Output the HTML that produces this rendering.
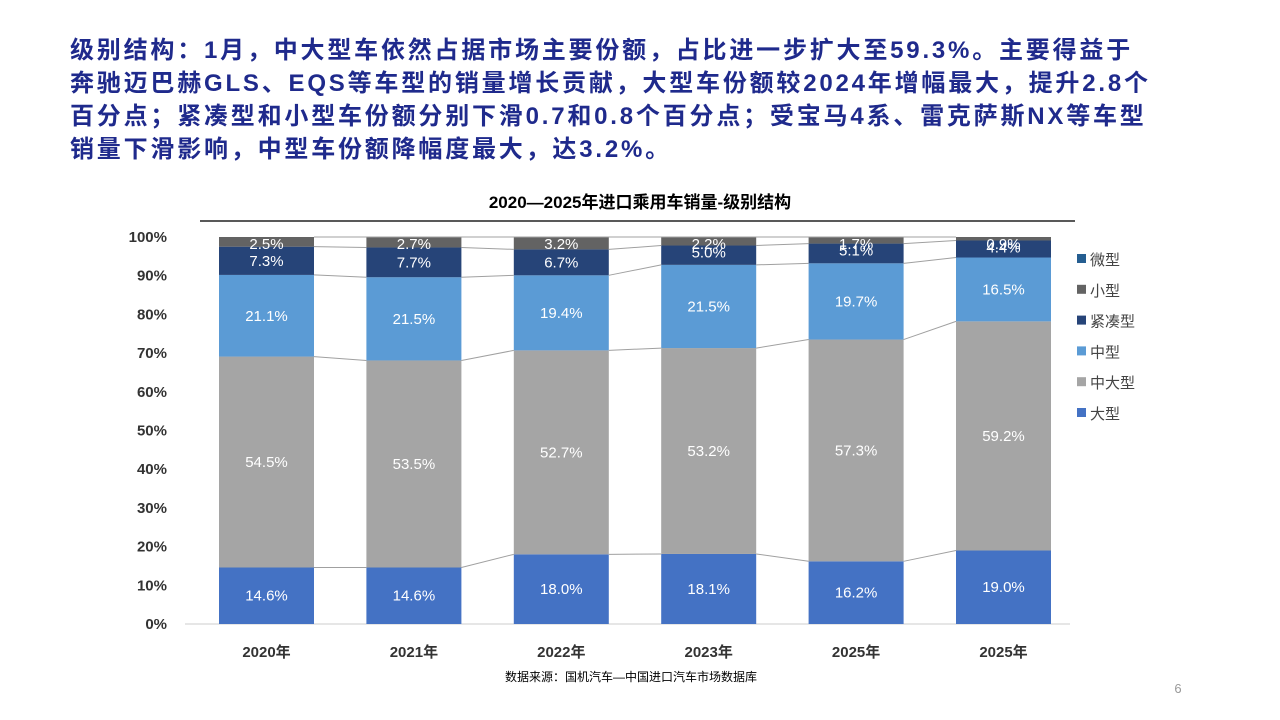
<!DOCTYPE html>
<html><head><meta charset="utf-8"><style>
body{margin:0;width:1280px;height:720px;background:#fff;overflow:hidden;font-family:"Liberation Sans","Noto Sans CJK SC",sans-serif}
.t{position:absolute;left:70px;top:34px;font-size:24px;font-weight:bold;color:#1f2a8c;line-height:33px;letter-spacing:2.8px;white-space:nowrap}
</style></head><body>
<div class="t">级别结构：1月，中大型车依然占据市场主要份额，占比进一步扩大至59.3%。主要得益于<br>奔驰迈巴赫GLS、EQS等车型的销量增长贡献，大型车份额较2024年增幅最大，提升2.8个<br>百分点；紧凑型和小型车份额分别下滑0.7和0.8个百分点；受宝马4系、雷克萨斯NX等车型<br>销量下滑影响，中型车份额降幅度最大，达3.2%。</div>
<svg id="s" width="1280" height="720" style="position:absolute;left:0;top:0" font-family="Liberation Sans, Noto Sans CJK SC, sans-serif"></svg>
<script>
var s=document.getElementById('s'),h='';
h+='<text x="640" y="208" text-anchor="middle" font-size="17" font-weight="bold" fill="#000">2020—2025年进口乘用车销量-级别结构</text>';
h+='<line x1="200" y1="221" x2="1075" y2="221" stroke="#222" stroke-width="1.5"/>';
var y0=624,k=3.87;
for(var i=0;i<=10;i++){var y=y0-i*10*k;h+='<text x="167" y="'+(y+5)+'" text-anchor="end" font-size="15" font-weight="bold" fill="#333">'+(i*10)+'%</text>';}
h+='<line x1="185" y1="624" x2="1070" y2="624" stroke="#ccc"/>';
var yrs=['2020年','2021年','2022年','2023年','2025年','2025年'];
var d=[[14.6,54.5,21.1,7.3,2.5,0],[14.6,53.5,21.5,7.7,2.7,0],[18.0,52.7,19.4,6.7,3.2,0],[18.1,53.2,21.5,5.0,2.2,0],[16.2,57.3,19.7,5.1,1.7,0],[19.0,59.2,16.5,4.4,0.9,0]];
var col=['#4472c4','#a5a5a5','#5b9bd5','#264478','#636363','#255e91'];
var bw=95,x0=219,p=147.4,cum=[];
for(var b=0;b<6;b++){var x=x0+b*p,c=0,cc=[];
 for(var j=0;j<5;j++){var v=d[b][j];var yt=y0-(c+v)*k,yb=y0-c*k;
  h+='<rect x="'+x+'" y="'+yt+'" width="'+bw+'" height="'+(yb-yt)+'" fill="'+col[j]+'"/>';
  var cy=(yt+yb)/2+5; if(j==4)cy=yt+12; if(j==3&&v<6)cy=yt+12;
  h+='<text x="'+(x+bw/2)+'" y="'+cy+'" text-anchor="middle" font-size="15" fill="#fff">'+v.toFixed(1)+'%</text>';
  c+=v;cc.push(c);}
 cum.push(cc);
 h+='<text x="'+(x+bw/2)+'" y="657" text-anchor="middle" font-size="15" font-weight="bold" fill="#333">'+yrs[b]+'</text>';}
for(var b=0;b<5;b++)for(var j=0;j<4;j++){h+='<line x1="'+(x0+b*p+bw)+'" y1="'+(y0-cum[b][j]*k)+'" x2="'+(x0+(b+1)*p)+'" y2="'+(y0-cum[b+1][j]*k)+'" stroke="#a0a0a0" stroke-width="1"/>';}
h+='<line x1="'+(x0+bw)+'" y1="237" x2="'+(x0+5*p)+'" y2="237" stroke="#a0a0a0"/>';
var lg=['微型','小型','紧凑型','中型','中大型','大型'],lc=['#255e91','#636363','#264478','#5b9bd5','#a5a5a5','#4472c4'];
for(var i=0;i<6;i++){var y=259+i*30.8;h+='<rect x="1077" y="'+(y-5)+'" width="9" height="9" fill="'+lc[i]+'"/><text x="1090" y="'+(y+6)+'" font-size="15" fill="#444">'+lg[i]+'</text>';}
h+='<text x="631" y="681" text-anchor="middle" font-size="12" fill="#000">数据来源：国机汽车—中国进口汽车市场数据库</text>';
h+='<text x="1178" y="693" text-anchor="middle" font-size="13" fill="#999">6</text>';
s.innerHTML=h;
</script>
</body></html>
